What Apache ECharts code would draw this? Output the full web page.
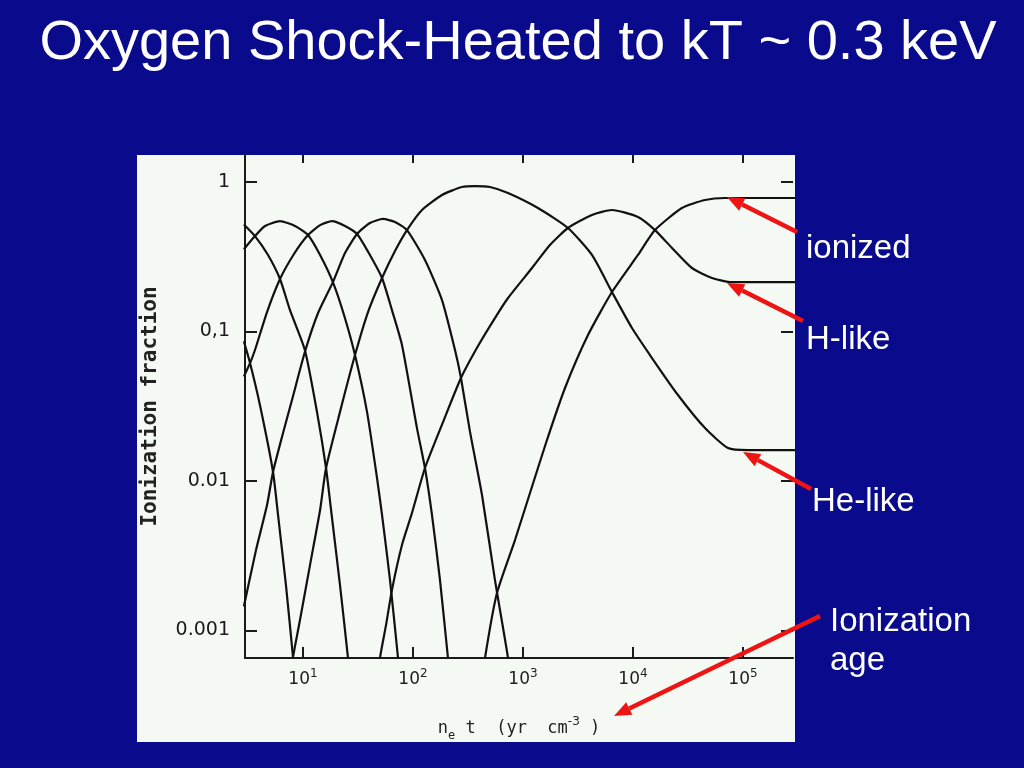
<!DOCTYPE html>
<html><head><meta charset="utf-8">
<script src="https://cdn.jsdelivr.net/npm/echarts@6/dist/echarts.min.js"></script>
<style>html,body{margin:0;padding:0;background:#0A0A8C;} #c{width:1024px;height:768px;}</style>
</head><body><div id="c"></div>
<script>
// Ionization fractions of oxygen ions vs n_e t (yr cm^-3)
const oII   = [[2.9,0.086],[3.30,0.0615],[4.06,0.0322],[5.34,0.0115],[5.93,0.00593],[7.0,0.00201],[8.11,0.000665],[8.46,0.000467]];
const oIII  = [[2.9,0.52],[3.66,0.435],[4.81,0.325],[6.18,0.2245],[7.62,0.139],[10.4,0.0752],[13.4,0.029],[16.2,0.01222],[18.0,0.0064],[21.7,0.00201],[25.6,0.000665],[26.7,0.000467]];
const oIV   = [[2.9,0.355],[3.66,0.435],[4.52,0.508],[6.18,0.548],[8.46,0.508],[11.1,0.442],[14.3,0.325],[18.7,0.214],[23.6,0.129],[29.7,0.0696],[38.2,0.029],[47.1,0.01047],[52.3,0.00593],[61.8,0.00218],[73.1,0.000655],[76.6,0.000467]];
const oV    = [[2.9,0.050],[3.30,0.0615],[3.66,0.0752],[4.71,0.135],[6.18,0.2245],[8.28,0.33],[11.1,0.442],[14.3,0.515],[18.4,0.548],[24.1,0.508],[31.0,0.449],[40.6,0.325],[52.3,0.228],[64.4,0.139],[79.4,0.0813],[108.7,0.0226],[128.5,0.01222],[148.8,0.00593],[175.9,0.00218],[208,0.000655],[218,0.000467]];
const oVI   = [[2.9,0.00145],[3.74,0.00345],[4.71,0.00691],[5.34,0.0115],[6.44,0.0197],[7.94,0.0348],[10.4,0.0729],[13.7,0.133],[18.7,0.214],[24.1,0.335],[31.0,0.449],[40.6,0.532],[53.4,0.566],[68.6,0.54],[88.2,0.477],[128.5,0.301],[183.5,0.1624],[241,0.0752],[273,0.0489],[330,0.0213],[424,0.00806],[556,0.00218],[731,0.000655],[763,0.000467]];
const oVII  = [[7.78,0.000527],[8.11,0.000665],[9.39,0.001175],[11.58,0.00274],[14.3,0.0064],[16.2,0.01222],[21.7,0.029],[29.7,0.0696],[39.0,0.135],[52.3,0.228],[68.6,0.3455],[88.2,0.477],[120.8,0.65],[183.5,0.819],[278.7,0.926],[366,0.94],[501,0.926],[731,0.844],[1368,0.67],[2565,0.4925],[4238,0.325],[6442,0.1837],[9795,0.1055],[14890,0.0665],[25650,0.0376],[45170,0.0226],[73100,0.01663],[111000,0.0161],[330000,0.0161]];
const oVIII = [[48.1,0.000467],[50.1,0.000655],[56.9,0.00109],[64.4,0.00187],[79.4,0.00373],[97.9,0.00611],[128.5,0.01222],[187.5,0.0248],[273,0.0489],[390,0.080],[556,0.123],[731,0.1675],[1208,0.266],[1758,0.379],[2565,0.4925],[4238,0.602],[6442,0.65],[11100,0.583],[15850,0.477],[22640,0.362],[34360,0.266],[52300,0.228],[79400,0.214],[330000,0.214]];
const oIX   = [[433,0.000467],[451.6,0.000655],[580,0.00178],[846,0.00403],[1158,0.00832],[1652,0.0188],[2410,0.0419],[3900,0.0947],[6442,0.1837],[11100,0.325],[15850,0.477],[27860,0.67],[45170,0.758],[68550,0.782],[330000,0.782]];

const ions = [oII, oIII, oIV, oV, oVI, oVII, oVIII, oIX];
const ionNames = ['O II','O III','O IV','O V','O VI','O VII','O VIII','O IX'];

const xTickValues = [10, 100, 1000, 10000, 100000];
const xTickExponents = ['1','2','3','4','5'];
const yTickValues = [0.001, 0.01, 0.1, 1];
const yTickLabels = ['0.001', '0.01', '0,1', '1'];

const titleText = 'Oxygen Shock-Heated to kT ~ 0.3 keV';
const callouts = ['ionized', 'H-like', 'He-like', 'Ionization', 'age'];

function findIdx(arr, v) {
  for (let i = 0; i < arr.length; i++) {
    if (Math.abs(Math.log10(arr[i]) - Math.log10(v)) < 1e-6) return i;
  }
  return -1;
}

const chart = echarts.init(document.getElementById('c'), null, {renderer: 'canvas'});

const RED = '#EE1414';
function arrow(x1, y1, x2, y2) {
  const a = Math.atan2(y2 - y1, x2 - x1);
  const L = 17, W = 7;
  const bx = x2 - L * Math.cos(a), by = y2 - L * Math.sin(a);
  return [
    {type: 'line', z: 100, shape: {x1: x1, y1: y1, x2: bx, y2: by}, style: {stroke: RED, lineWidth: 4.5}},
    {type: 'polygon', z: 100, shape: {points: [[x2, y2], [bx + W * Math.sin(a), by - W * Math.cos(a)], [bx - W * Math.sin(a), by + W * Math.cos(a)]]}, style: {fill: RED}}
  ];
}

const labelFont = 'Liberation Sans';
const graphics = [
  {type: 'rect', z: -100, shape: {x: 137, y: 155, width: 658, height: 587}, style: {fill: '#F5F9F3'}},
  {type: 'text', z: 100, style: {text: titleText, x: 518, y: 16, align: 'center', verticalAlign: 'top', fill: '#fff', fontSize: 56, fontFamily: labelFont}},
  {type: 'text', z: 100, style: {text: callouts[0], x: 806, y: 265, align: 'left', verticalAlign: 'bottom', fill: '#fff', fontSize: 33, fontFamily: labelFont}},
  {type: 'text', z: 100, style: {text: callouts[1], x: 806, y: 356, align: 'left', verticalAlign: 'bottom', fill: '#fff', fontSize: 33, fontFamily: labelFont}},
  {type: 'text', z: 100, style: {text: callouts[2], x: 812, y: 518, align: 'left', verticalAlign: 'bottom', fill: '#fff', fontSize: 33, fontFamily: labelFont}},
  {type: 'text', z: 100, style: {text: callouts[3], x: 830, y: 638, align: 'left', verticalAlign: 'bottom', fill: '#fff', fontSize: 33, fontFamily: labelFont}},
  {type: 'text', z: 100, style: {text: callouts[4], x: 830, y: 677, align: 'left', verticalAlign: 'bottom', fill: '#fff', fontSize: 33, fontFamily: labelFont}}
]
.concat(arrow(797, 232, 727, 197))
.concat(arrow(803, 321, 727, 283))
.concat(arrow(811, 489, 743, 452))
.concat(arrow(820, 616, 614, 716));

const axisColor = '#1a1a1a';
const option = {
  backgroundColor: '#0A0A8C',
  animation: false,
  grid: {left: 245, top: 155, right: 231, bottom: 110, containLabel: false},
  xAxis: [
    {
      type: 'log', min: 2.97, max: 285000, position: 'bottom',
      name: '{a|n}{sub|e}{a| t  (yr  cm}{sup|-3}{a| )}',
      nameLocation: 'middle', nameGap: 58,
      nameTextStyle: {
        color: '#222',
        rich: {
          a: {fontFamily: 'DejaVu Sans Mono', fontSize: 17, color: '#222', lineHeight: 26},
          sub: {fontFamily: 'DejaVu Sans Mono', fontSize: 12, color: '#222', verticalAlign: 'bottom', lineHeight: 26},
          sup: {fontFamily: 'DejaVu Sans', fontSize: 12, color: '#222', verticalAlign: 'top', lineHeight: 26}
        }
      },
      axisLine: {show: true, onZero: false, lineStyle: {color: axisColor, width: 2}},
      axisTick: {show: true, inside: true, length: 11, customValues: xTickValues, lineStyle: {color: axisColor, width: 2}},
      axisLabel: {
        show: true, margin: 10, customValues: xTickValues,
        formatter: function (v) { const i = findIdx(xTickValues, v); return i < 0 ? '' : '{n|10}{s|' + xTickExponents[i] + '}'; },
        rich: {
          n: {fontFamily: 'DejaVu Sans', fontSize: 17, color: '#222', lineHeight: 24},
          s: {fontFamily: 'DejaVu Sans', fontSize: 12, color: '#222', verticalAlign: 'top', lineHeight: 24}
        }
      },
      splitLine: {show: false}, minorTick: {show: false}
    },
    {
      type: 'log', min: 2.97, max: 285000, position: 'top',
      axisLine: {show: false},
      axisTick: {show: true, inside: true, length: 8, customValues: xTickValues, lineStyle: {color: axisColor, width: 2}},
      axisLabel: {show: false}, splitLine: {show: false}
    }
  ],
  yAxis: [
    {
      type: 'log', min: 0.000655, max: 1.516, position: 'left',
      name: 'Ionization fraction', nameLocation: 'middle', nameGap: 84, nameRotate: 90,
      nameTextStyle: {fontFamily: 'DejaVu Sans Mono', fontWeight: 'bold', fontSize: 21, color: '#222'},
      axisLine: {show: true, onZero: false, lineStyle: {color: axisColor, width: 2}},
      axisTick: {show: true, inside: true, length: 12, customValues: yTickValues, lineStyle: {color: axisColor, width: 2}},
      axisLabel: {
        show: true, margin: 15, customValues: yTickValues,
        fontFamily: 'DejaVu Sans', fontSize: 19, color: '#1a1a1a',
        formatter: function (v) { const i = findIdx(yTickValues, v); return i < 0 ? '' : yTickLabels[i]; }
      },
      splitLine: {show: false}, minorTick: {show: false}
    },
    {
      type: 'log', min: 0.000655, max: 1.516, position: 'right',
      axisLine: {show: false},
      axisTick: {show: true, inside: true, length: 12, customValues: yTickValues, lineStyle: {color: axisColor, width: 2}},
      axisLabel: {show: false}, splitLine: {show: false}
    }
  ],
  series: ions.map(function (d, i) {
    return {
      name: ionNames[i], type: 'line', data: d, xAxisIndex: 0, yAxisIndex: 0,
      symbol: 'none', smooth: 0.2, clip: true, silent: true,
      lineStyle: {color: '#111', width: 2.2}
    };
  }),
  graphic: graphics
};
chart.setOption(option);
</script>
</body></html>
